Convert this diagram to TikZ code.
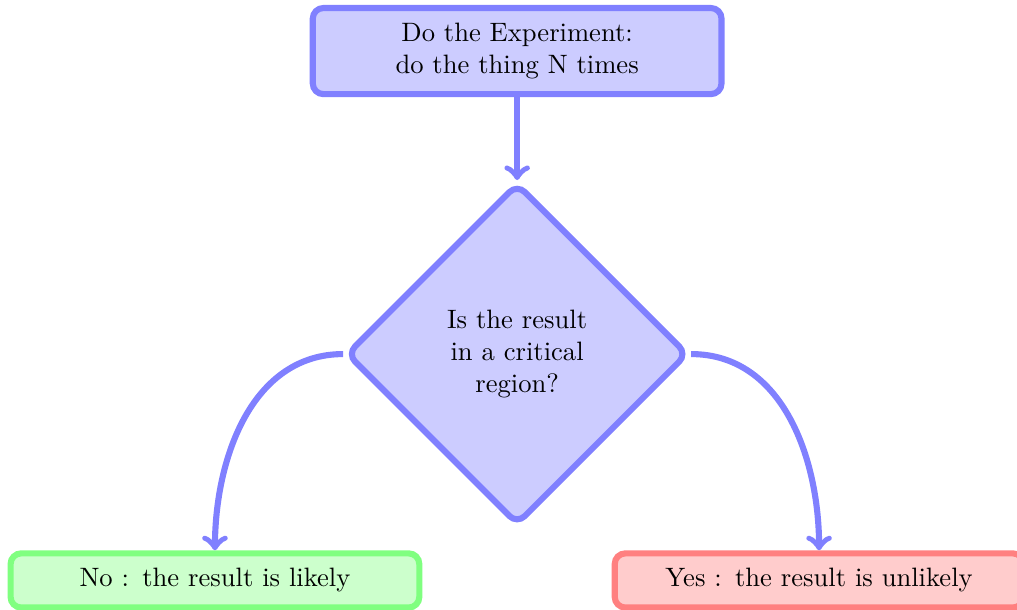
\documentclass[tikz,border=0pt]{standalone}
\usetikzlibrary{shapes.geometric}
\begin{document}
\begin{tikzpicture}[
  box/.style={rectangle, rounded corners, draw=#1!50, fill=#1!20, line width=2.3pt,
    text width=5cm, align=center, inner sep=2mm},
  decision/.style={diamond, aspect=1, rounded corners, draw=blue!50, fill=blue!20,
    line width=2.3pt, text width=2cm, align=center, inner sep=0pt,
    minimum width=128.5pt, minimum height=128.5pt},
  link/.style={->, draw=blue!50, line width=2.3pt}
]
\useasboundingbox (0,0) rectangle (382.3pt,-229.3pt);

\node[box=blue] (exp) at (194.4pt,-19.2pt) {Do the Experiment:\\do the thing N times};
\node[decision] (test) at (194.4pt,-133.1pt) {Is the result in a critical region?};
\node[box=green] (no) at (80.8pt,-218.2pt) {No : the result is likely};
\node[box=red] (yes) at (307.9pt,-218.2pt) {Yes : the result is unlikely};

\draw[link] (exp) -- (test);
\draw[link] (test.west) to[out=180,in=90] (no.north);
\draw[link] (test.east) to[out=0,in=90] (yes.north);
\end{tikzpicture}
\end{document}
